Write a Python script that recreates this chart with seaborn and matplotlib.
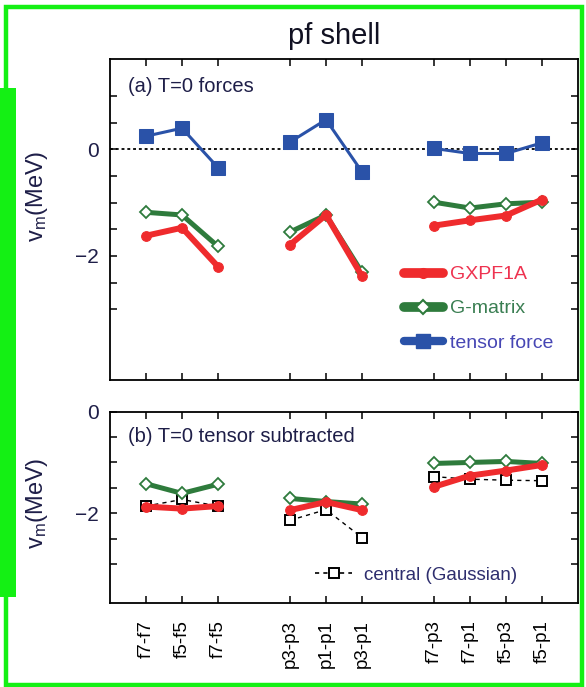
import numpy as np
import pandas as pd
import matplotlib
matplotlib.use("Agg")
import matplotlib.pyplot as plt
import seaborn as sns
from matplotlib.lines import Line2D
from matplotlib.patches import Rectangle

# ---------------- data ----------------
labels = ["f7-f7", "f5-f5", "f7-f5", "p3-p3", "p1-p1", "p3-p1",
          "f7-p3", "f7-p1", "f5-p3", "f5-p1"]
group_sizes = [3, 3, 4]

# (a) T=0 forces
gxpf1a_a = [-1.62, -1.47, -2.20, -1.79, -1.23, -2.38, -1.43, -1.33, -1.24, -0.94]
gmatrix_a = [-1.18, -1.23, -1.82, -1.55, -1.23, -2.31, -0.99, -1.10, -1.02, -0.99]
tensor_a = [0.25, 0.40, -0.34, 0.14, 0.56, -0.42, 0.02, -0.075, -0.075, 0.125]

# (b) T=0 tensor subtracted
gxpf1a_b = [-1.87, -1.91, -1.86, -1.94, -1.78, -1.94, -1.48, -1.26, -1.16, -1.05]
gmatrix_b = [-1.42, -1.61, -1.43, -1.71, -1.77, -1.82, -1.02, -1.00, -0.98, -1.02]
central_b = [-1.86, -1.73, -1.86, -2.14, -1.93, -2.48, -1.28, -1.33, -1.35, -1.36]

series_names = ["GXPF1A", "G-matrix", "tensor force", "central (Gaussian)"]

# ---------------- style ----------------
sns.set_style("ticks")
plt.rcParams["font.family"] = ["Liberation Sans", "DejaVu Sans"]
plt.rcParams["mathtext.fontset"] = "custom"
plt.rcParams["mathtext.rm"] = "Liberation Sans"
plt.rcParams["mathtext.it"] = "Liberation Sans"

RED = "#ef2b2d"
GREEN = "#2e7b3c"
BLUE = "#2a52a8"
TXT = "#1e1e48"

W, H = 586, 687
fig = plt.figure(figsize=(W / 100, H / 100), dpi=100)

ax1 = fig.add_axes([110 / W, 1 - 380 / H, 468 / W, 321 / H])
ax2 = fig.add_axes([110 / W, 1 - 603 / H, 468 / W, 191.3 / H])

group_id = np.repeat(np.arange(len(group_sizes)), group_sizes)
pos = np.arange(len(labels)) + 1 + group_id

df_a = pd.DataFrame({"pos": pos, "group": group_id, "GXPF1A": gxpf1a_a,
                     "G-matrix": gmatrix_a, "tensor force": tensor_a})
df_b = pd.DataFrame({"pos": pos, "group": group_id, "GXPF1A": gxpf1a_b,
                     "G-matrix": gmatrix_b, "central (Gaussian)": central_b})

common = dict(x="pos", units="group", estimator=None, legend=False)

# ---- panel (a)
ax1.axhline(0, color="black", ls=(0, (1.6, 1.6)), lw=1.3, zorder=1)
sns.lineplot(data=df_a, y="tensor force", ax=ax1, color=BLUE, lw=2.2,
             marker="s", markersize=9.5, markeredgecolor=BLUE,
             markerfacecolor=BLUE, zorder=3, **common)
sns.lineplot(data=df_a, y="G-matrix", ax=ax1, color=GREEN, lw=3.6,
             marker="D", markersize=6.5, markeredgecolor=GREEN,
             markerfacecolor="white", markeredgewidth=1.3, zorder=4, **common)
sns.lineplot(data=df_a, y="GXPF1A", ax=ax1, color=RED, lw=4.3,
             marker="o", markersize=7, markeredgecolor=RED,
             markerfacecolor=RED, zorder=5, **common)

# ---- panel (b)
sns.lineplot(data=df_b, y="central (Gaussian)", ax=ax2, color="black", lw=1.0,
             ls=(0, (3, 3)), marker="s", markersize=7, markeredgecolor="black",
             markerfacecolor="white", markeredgewidth=1.4, zorder=3, **common)
sns.lineplot(data=df_b, y="G-matrix", ax=ax2, color=GREEN, lw=3.6,
             marker="D", markersize=6.5, markeredgecolor=GREEN,
             markerfacecolor="white", markeredgewidth=1.3, zorder=4, **common)
sns.lineplot(data=df_b, y="GXPF1A", ax=ax2, color=RED, lw=4.3,
             marker="o", markersize=7, markeredgecolor=RED,
             markerfacecolor=RED, zorder=5, **common)

# ---- axes cosmetics
def lab(v):
    return "0" if abs(v) < 1e-9 else ("\u2212%d" % abs(v) if v == -2 else "")

for ax, ylo, yhi, yt in [(ax1, -4.33, 1.70, np.arange(-3, 1.01, 0.5)),
                         (ax2, -3.77, 0.0, np.arange(-3, 0.01, 0.5))]:
    ax.set_xlim(0, 13)
    ax.set_ylim(ylo, yhi)
    ax.set_xticks(pos)
    ax.set_yticks(yt)
    ax.set_yticklabels([lab(v) for v in yt])
    ax.tick_params(direction="in", top=True, right=True, length=5, width=1.1,
                   colors="black", labelsize=15, labelcolor=TXT)
    ax.tick_params(axis="y", pad=8)
    for s in ax.spines.values():
        s.set_linewidth(1.3)
        s.set_color("black")
    ax.set_xlabel("")
    ax.set_ylabel(r"$\mathregular{v_m}$(MeV)", fontsize=17, color=TXT)

ax1.yaxis.set_label_coords(-0.128, 0.572)
ax2.yaxis.set_label_coords(-0.128, 0.52)

ax1.tick_params(axis="x", labelbottom=False)
ax2.set_xticklabels(labels, rotation=90, fontsize=13.5, color="black")
ax2.tick_params(axis="x", pad=12)

ax1.text(0.038, 0.914, "(a) T=0 forces", transform=ax1.transAxes,
         fontsize=14.5, color=TXT, ha="left", va="center")
ax2.text(0.038, 0.869, "(b) T=0 tensor subtracted", transform=ax2.transAxes,
         fontsize=14.5, color=TXT, ha="left", va="center")

# ---- legends
h_a = [Line2D([], [], color=RED, lw=7, marker="o", ms=7, mec=RED, mfc=RED),
       Line2D([], [], color=GREEN, lw=7, marker="D", ms=7, mec=GREEN,
              mfc="white", mew=1.5),
       Line2D([], [], color=BLUE, lw=6, marker="s", ms=10, mec=BLUE, mfc=BLUE)]
leg = ax1.legend(h_a, series_names[:3], loc="upper left",
                 bbox_to_anchor=(0.628, 0.356), frameon=False, borderpad=0,
                 borderaxespad=0, handlelength=2.0, handletextpad=0.35,
                 labelspacing=0.85, fontsize=14)
for t, c in zip(leg.get_texts(), ["#ee3350", "#3a7e52", "#4646b4"]):
    t.set_color(c)

h_b = [Line2D([], [], color="black", lw=1.2, ls=(0, (2.5, 2.5)), marker="s",
              ms=7, mec="black", mfc="white", mew=1.4)]
leg2 = ax2.legend(h_b, series_names[3:], loc="upper left",
                  bbox_to_anchor=(0.438, 0.19), frameon=False, borderpad=0,
                  borderaxespad=0, handlelength=2.0, handletextpad=0.6,
                  fontsize=13.5)
for t in leg2.get_texts():
    t.set_color("#2e2e6e")

# ---- title
fig.text(334 / W, 1 - 36 / H, "pf shell", ha="center", va="center",
         fontsize=21, color="#111122")

# ---- green frame decorations
GR = "#14f014"
fig.patches.append(Rectangle((6 / W, 1 - 685 / H), 576 / W, 678 / H,
                             transform=fig.transFigure, fill=False,
                             edgecolor=GR, lw=3.2, zorder=0))
fig.patches.append(Rectangle((0, 1 - 597 / H), 16 / W, 509 / H,
                             transform=fig.transFigure, facecolor=GR,
                             edgecolor="none", zorder=0))

fig.savefig("out.png", dpi=100)
